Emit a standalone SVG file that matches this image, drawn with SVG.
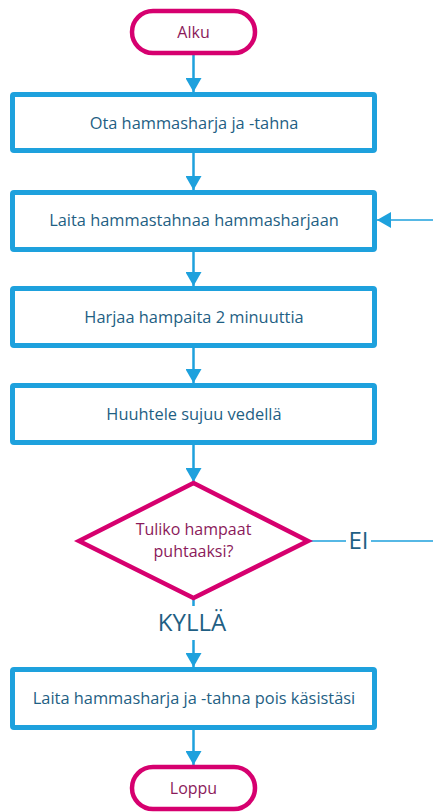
<svg xmlns="http://www.w3.org/2000/svg" width="433" height="812" viewBox="0 0 433 812">
<defs>
<marker id="ah" viewBox="0 0 14 16" refX="14" refY="8" markerWidth="14" markerHeight="16" orient="auto" markerUnits="userSpaceOnUse">
<path d="M0,0 L14,8 L0,16 z" fill="#1ea1dd"/>
</marker>
<style>
.box{fill:#fff;stroke:#1ea1dd;stroke-width:5}
.term{fill:#fff;stroke:#d6006f;stroke-width:4.5}
.btxt{font-family:"Open Sans","Liberation Sans",sans-serif;font-size:16.4px;fill:#1f5f84;text-anchor:middle}
.ptxt{font-family:"Open Sans","Liberation Sans",sans-serif;font-size:16px;fill:#8b1a5a;text-anchor:middle}
.lbl{font-family:"Open Sans","Liberation Sans",sans-serif;font-size:24px;fill:#1f5f84;text-anchor:middle}
.con{stroke:#1ea1dd;stroke-width:2.5;fill:none}
.thin{stroke:#1ea1dd;stroke-width:1.6;fill:none}
</style>
</defs>
<rect width="433" height="812" fill="#fff"/>
<g id="connectors">
<line class="con" x1="193.5" y1="53" x2="193.5" y2="92" marker-end="url(#ah)"/>
<line class="con" x1="193.5" y1="151" x2="193.5" y2="190" marker-end="url(#ah)"/>
<line class="con" x1="193.5" y1="250" x2="193.5" y2="286" marker-end="url(#ah)"/>
<line class="con" x1="193.5" y1="346" x2="193.5" y2="383" marker-end="url(#ah)"/>
<line class="con" x1="193.5" y1="443" x2="193.5" y2="482" marker-end="url(#ah)"/>
<line class="con" x1="193.5" y1="598" x2="193.5" y2="606"/>
<line class="con" x1="193.5" y1="640" x2="193.5" y2="667" marker-end="url(#ah)"/>
<line class="con" x1="193.5" y1="728" x2="193.5" y2="765" marker-end="url(#ah)"/>
<line class="thin" x1="308" y1="541" x2="346" y2="541"/>
<line class="thin" x1="371" y1="541" x2="433" y2="541"/>
<line class="thin" x1="433" y1="220" x2="377" y2="220" marker-end="url(#ah)"/>
<text class="lbl" x="358.5" y="549">EI</text>
<text class="lbl" x="192" y="631">KYLLÄ</text>
</g>
<g id="alku">
<rect class="term" x="132" y="11" width="123" height="42" rx="21"/>
<text class="ptxt" x="193.5" y="38">Alku</text>
</g>
<g id="ota">
<rect class="box" x="12.5" y="94.5" width="362" height="56" rx="1.5"/>
<text class="btxt" x="194" y="129">Ota hammasharja ja -tahna</text>
</g>
<g id="laita">
<rect class="box" x="12.5" y="192.5" width="362" height="57" rx="1.5"/>
<text class="btxt" x="194" y="226">Laita hammastahnaa hammasharjaan</text>
</g>
<g id="harjaa">
<rect class="box" x="12.5" y="288.5" width="362" height="57" rx="1.5"/>
<text class="btxt" x="194" y="323">Harjaa hampaita 2 minuuttia</text>
</g>
<g id="huuhtele">
<rect class="box" x="12.5" y="385.5" width="362" height="57" rx="1.5"/>
<text class="btxt" x="194" y="420">Huuhtele sujuu vedellä</text>
</g>
<g id="tuliko">
<polygon points="193.5,483 308,541 193.5,598 79,541" style="fill:#fff;stroke:#d6006f;stroke-width:4.5;stroke-linejoin:miter"/>
<text class="ptxt" x="193.5" y="535">Tuliko hampaat</text>
<text class="ptxt" x="193.5" y="557">puhtaaksi?</text>
</g>
<g id="pois">
<rect class="box" x="12.5" y="669.5" width="362" height="58" rx="1.5"/>
<text class="btxt" x="194" y="704">Laita hammasharja ja -tahna pois käsistäsi</text>
</g>
<g id="loppu">
<rect class="term" x="132" y="767" width="123" height="42" rx="21"/>
<text class="ptxt" x="193.5" y="794">Loppu</text>
</g>
</svg>
